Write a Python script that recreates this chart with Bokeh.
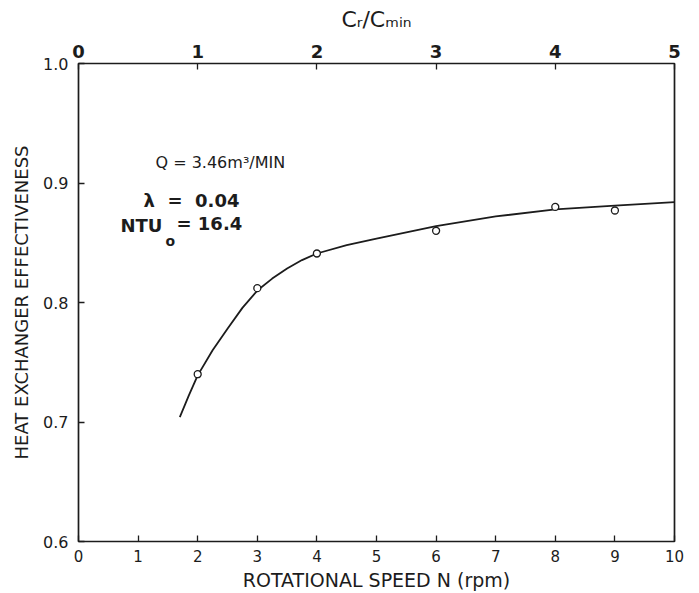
from bokeh.plotting import figure
from bokeh.models import Range1d, LinearAxis, FixedTicker, Label
from bokeh.embed import file_html
from bokeh.resources import INLINE

# ---- data ----
curve_n = [1.7, 1.85, 2.0, 2.25, 2.5, 2.75, 3.0, 3.25, 3.5, 3.75, 4.0, 4.5, 5.0, 6.0, 7.0, 8.0, 9.0, 10.0]
curve_eff = [0.704, 0.722, 0.739, 0.760, 0.778, 0.7955, 0.810, 0.820, 0.8285, 0.8355, 0.841,
             0.848, 0.8535, 0.864, 0.872, 0.878, 0.881, 0.884]
points_n = [2, 3, 4, 6, 8, 9]
points_eff = [0.740, 0.812, 0.841, 0.860, 0.880, 0.877]

bottom_ticks = [0, 1, 2, 3, 4, 5, 6, 7, 8, 9, 10]
top_ticks = [0, 1, 2, 3, 4, 5]
left_ticks = [0.6, 0.7, 0.8, 0.9, 1.0]
left_tick_labels = ["0.6", "0.7", "0.8", "0.9", "1.0"]

x_label = "ROTATIONAL SPEED N (rpm)"
y_label = "HEAT EXCHANGER EFFECTIVENESS"
top_label = "C\u1d63/C\u2098\u1d62\u2099"

INK = "#1c1c1c"
FONT = "DejaVu Sans"

# frame geometry (pixels in the 699x593 page)
FL, FR, FT, FB = 78, 674, 63, 541
W, H = 699, 593

p = figure(width=W, height=H, x_range=Range1d(0, 10), y_range=Range1d(0.6, 1.0),
           output_backend="svg", toolbar_location=None,
           min_border_left=FL, min_border_right=W - FR,
           min_border_top=FT, min_border_bottom=H - FB)
p.extra_x_ranges = {"cr": Range1d(0, 5)}
p.background_fill_color = "white"
p.border_fill_color = "white"
p.grid.visible = False
p.outline_line_color = INK
p.outline_line_width = 1.7


def dx(px):
    return (px - FL) / (FR - FL) * 10.0


def dy(py):
    return 1.0 - (py - FT) / (FB - FT) * 0.4


def style_axis(ax, size, bold=False, standoff=8):
    ax.axis_line_color = None
    ax.major_tick_in = 6
    ax.major_tick_out = 0
    ax.major_tick_line_color = INK
    ax.major_tick_line_width = 1.3
    ax.minor_tick_line_color = None
    ax.major_label_text_font = FONT
    ax.major_label_text_font_size = size
    ax.major_label_text_color = INK
    ax.major_label_text_font_style = "bold" if bold else "normal"
    ax.major_label_standoff = standoff
    ax.axis_label_text_font = FONT
    ax.axis_label_text_font_style = "normal"
    ax.axis_label_text_color = INK


xa = p.xaxis[0]
xa.ticker = FixedTicker(ticks=bottom_ticks)
xa.axis_label = x_label
style_axis(xa, "15px", standoff=8)
xa.axis_label_text_font_size = "19px"
xa.axis_label_standoff = 4

ya = p.yaxis[0]
ya.ticker = FixedTicker(ticks=left_ticks)
ya.major_label_overrides = {t: s for t, s in zip(left_ticks, left_tick_labels)}
ya.axis_label = y_label
style_axis(ya, "16px", standoff=10)
ya.axis_label_text_font_size = "18px"
ya.axis_label_standoff = 8

top = LinearAxis(x_range_name="cr", ticker=FixedTicker(ticks=top_ticks))
style_axis(top, "18px", bold=True, standoff=6)
top.axis_label = top_label
top.axis_label_text_font_size = "22px"
top.axis_label_standoff = 10
p.add_layout(top, "above")

# curve and measured points
p.line(curve_n, curve_eff, line_color=INK, line_width=1.8)
p.scatter(points_n, points_eff, marker="circle", size=7, fill_color="white",
          line_color=INK, line_width=1.3)


def lab(text, px, py, size, bold=False):
    p.add_layout(Label(x=dx(px), y=dy(py), text=text, text_font=FONT,
                       text_font_size=size, text_color=INK,
                       text_font_style="bold" if bold else "normal",
                       text_baseline="alphabetic", text_align="left"))


# annotations
NB = "\u00a0"
lab("Q = 3.46m\u00b3/MIN", 155, 162, "16px")
lab("\u03bb" + NB * 2 + "=" + NB * 2 + "0.04", 143, 200, "18px", bold=True)
lab("NTU", 120, 225, "18px", bold=True)
lab("o", 165, 240, "14px", bold=True)
lab("= 16.4", 176, 223, "18px", bold=True)

open("out.html", "w").write(file_html(p, INLINE))
